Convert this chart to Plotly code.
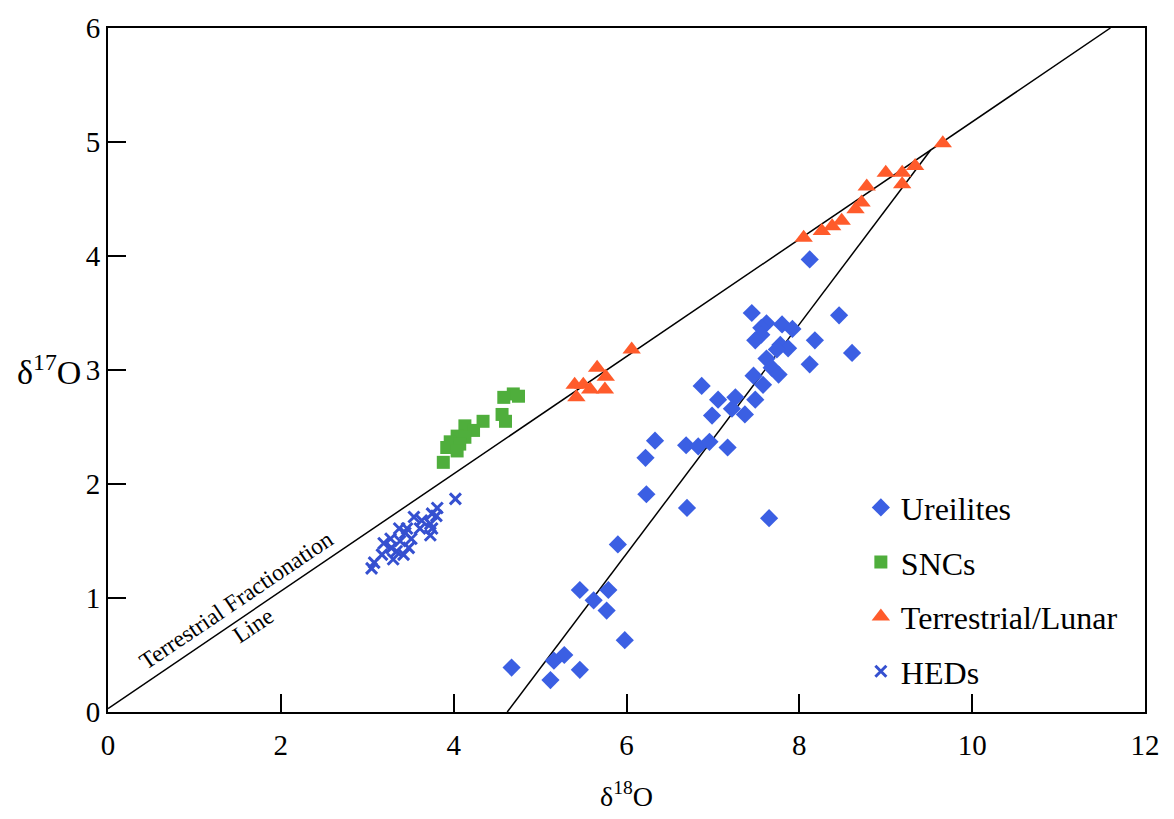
import plotly.graph_objects as go

# Oxygen isotope data (per mil): delta-18O (x) vs delta-17O (y)
ureilite_d18 = [8.12, 7.45, 8.46, 7.62, 7.80, 7.56, 7.92, 7.56, 7.49, 8.18, 7.78, 7.87, 7.74,
                8.61, 7.62, 8.12, 7.68, 7.76, 7.47, 7.58, 6.87, 7.26, 7.06, 7.49, 7.22, 6.99,
                7.37, 6.33, 6.69, 6.83, 6.96, 7.17, 6.22, 6.23, 6.70, 7.65, 5.90, 5.46, 5.79,
                5.62, 5.77, 5.98, 5.28, 5.16, 4.67, 5.46, 5.12]
ureilite_d17 = [3.97, 3.50, 3.48, 3.41, 3.40, 3.37, 3.36, 3.31, 3.26, 3.26, 3.22, 3.19, 3.18,
                3.15, 3.10, 3.05, 3.02, 2.96, 2.95, 2.87, 2.86, 2.76, 2.74, 2.74, 2.66, 2.60,
                2.61, 2.38, 2.34, 2.33, 2.37, 2.32, 2.23, 1.91, 1.79, 1.70, 1.47, 1.07, 1.07,
                0.98, 0.89, 0.63, 0.50, 0.45, 0.39, 0.37, 0.28]

snc_d18 = [4.69, 4.58, 4.75, 4.56, 4.60, 4.34, 4.13, 4.23, 4.04, 4.13, 3.96, 4.07, 3.92, 4.04, 3.88]
snc_d17 = [2.79, 2.76, 2.77, 2.61, 2.55, 2.55, 2.51, 2.47, 2.42, 2.41, 2.37, 2.35, 2.32, 2.29, 2.19]

terr_d18 = [6.06, 5.66, 5.76, 5.40, 5.50, 5.58, 5.75, 5.42,
            8.05, 8.26, 8.38, 8.49, 8.65, 8.72, 8.78, 9.00, 9.19, 9.19, 9.34, 9.66]
terr_d17 = [3.18, 3.02, 2.94, 2.87, 2.87, 2.83, 2.83, 2.76,
            4.16, 4.22, 4.26, 4.31, 4.41, 4.47, 4.61, 4.73, 4.73, 4.63, 4.79, 4.99]

hed_d18 = [4.02, 3.81, 3.75, 3.80, 3.54, 3.63, 3.73, 3.37, 3.46, 3.61, 3.75, 3.44, 3.73,
           3.27, 3.51, 3.38, 3.19, 3.28, 3.48, 3.34, 3.17, 3.42, 3.30, 3.08, 3.05]
hed_d17 = [1.87, 1.79, 1.74, 1.72, 1.71, 1.68, 1.65, 1.61, 1.61, 1.61, 1.61, 1.57, 1.55,
           1.52, 1.52, 1.50, 1.48, 1.44, 1.44, 1.41, 1.38, 1.38, 1.34, 1.31, 1.26]

# Reference lines
tfl_x = [0.0, 11.6]
tfl_y = [0.03, 6.0]
mix_x = [4.62, 9.52]
mix_y = [0.0, 4.93]

SERIF = "Liberation Serif, Times New Roman, serif"

fig = go.Figure()

fig.add_trace(go.Scatter(x=tfl_x, y=tfl_y, mode="lines", showlegend=False,
                         line=dict(color="black", width=1.5), hoverinfo="skip"))
fig.add_trace(go.Scatter(x=mix_x, y=mix_y, mode="lines", showlegend=False,
                         line=dict(color="black", width=1.5), hoverinfo="skip"))

fig.add_trace(go.Scatter(x=ureilite_d18, y=ureilite_d17, mode="markers", name="Ureilites",
                         legendgroup="u",
                         marker=dict(symbol="diamond", size=14, color="#3b5fe3")))
fig.add_trace(go.Scatter(x=snc_d18, y=snc_d17, mode="markers", name="SNCs",
                         legendgroup="s",
                         marker=dict(symbol="square", size=13, color="#4fae3c")))
fig.add_trace(go.Scatter(x=terr_d18, y=terr_d17, mode="markers", name="Terrestrial/Lunar",
                         legendgroup="t",
                         marker=dict(symbol="triangle-up", size=16, color="#ff5b2b")))
fig.add_trace(go.Scatter(x=hed_d18, y=hed_d17, mode="markers", name="HEDs",
                         legendgroup="h",
                         marker=dict(symbol="x-thin", size=11, color="#3550d0",
                                     line=dict(width=3, color="#3550d0"))))

fig.add_annotation(x=1.59, y=0.87, xref="x", yref="y",
                   text="Terrestrial Fractionation<br>Line", showarrow=False,
                   textangle=-34, font=dict(family=SERIF, size=23.5, color="black"))

fig.add_annotation(x=-0.024, y=3, xref="paper", yref="y", xanchor="right", yanchor="middle",
                   text="δ<sup>17</sup>O", showarrow=False,
                   font=dict(family=SERIF, size=34, color="black"))
fig.add_annotation(x=0.5, y=-0.12, xref="paper", yref="paper", xanchor="center",
                   yanchor="middle", text="δ<sup>18</sup>O", showarrow=False,
                   font=dict(family=SERIF, size=28, color="black"))

axis_common = dict(showline=True, linecolor="black", linewidth=2, mirror=True,
                   ticks="inside", ticklen=18, tickwidth=2, tickcolor="black",
                   showgrid=False, zeroline=False,
                   tickfont=dict(family=SERIF, size=29, color="black"))

fig.update_xaxes(range=[0, 12], tickvals=[0, 2, 4, 6, 8, 10, 12],
                 ticklabelstandoff=6, **axis_common)
fig.update_yaxes(range=[0, 6], tickvals=[0, 1, 2, 3, 4, 5, 6], **axis_common)

fig.update_layout(
    width=1174, height=819,
    margin=dict(l=108, r=29, t=22, b=107),
    paper_bgcolor="white", plot_bgcolor="white",
    legend=dict(x=0.726, y=0.339, xanchor="left", yanchor="top",
                font=dict(family=SERIF, size=32, color="black"),
                tracegroupgap=10, bgcolor="rgba(0,0,0,0)", itemwidth=30),
)

fig.write_html("out.html")
